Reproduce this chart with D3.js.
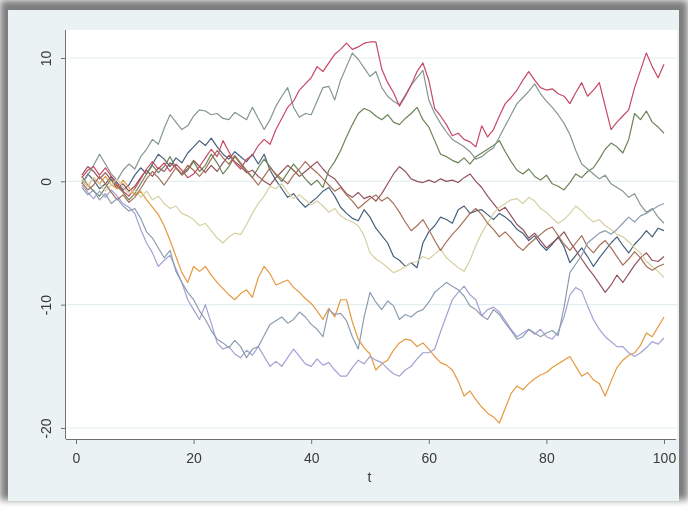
<!DOCTYPE html>
<html>
<head>
<meta charset="utf-8">
<script src="https://cdn.jsdelivr.net/npm/d3@7"></script>
<style>
  body { margin: 0; background: #ffffff; }
  svg { display: block; }
  text { font-family: "Liberation Sans", Arial, sans-serif; }
</style>
</head>
<body>
<svg></svg>
<script>
// time index 1..100
let tValues = d3.range(1, 101);
let xTicks = [0, 20, 40, 60, 80, 100];
let yTicks = [-20, -10, 0, 10];

// ten random walks
let cranberry = [
  0.3, 0.9, 1.2, 0.5, 1.1, 0.4, -0.3, -0.8, -1.2, -0.6,
  0.2, 1.0, 1.6, 1.0, 1.5, 0.8, 1.4, 0.9, 0.3, 0.6,
  1.2, 1.9, 2.6, 2.0, 3.3, 2.4, 1.5, 1.0, 1.8, 2.1,
  2.9, 3.4, 3.0, 4.2, 5.1, 6.0, 6.5, 7.4, 7.9, 8.4,
  9.3, 8.9, 9.6, 10.3, 10.7, 11.2, 10.7, 10.9, 11.2, 11.3,
  11.3, 9.1, 8.0, 7.2, 6.1, 6.9, 7.8, 8.9, 9.6, 8.2,
  5.9, 5.3, 4.6, 3.7, 3.9, 3.4, 3.2, 2.8, 4.5, 3.6,
  4.2, 5.3, 6.3, 6.8, 7.4, 8.2, 8.9, 8.2, 7.6, 7.4,
  7.5, 7.1, 6.9, 6.3, 7.2, 8.0, 6.9, 7.4, 8.0, 6.1,
  4.2, 4.8, 5.3, 5.8, 7.6, 9.0, 10.4, 9.3, 8.4, 9.5
];
let teal = [
  -0.2, 0.5, 1.3, 2.2, 1.4, 0.6, 0.1, 0.9, 1.4, 1.0,
  2.0, 2.6, 3.4, 3.0, 4.3, 5.4, 4.8, 4.2, 4.5, 5.3,
  5.8, 5.7, 5.4, 5.5, 5.1, 5.0, 5.6, 5.3, 5.0, 6.0,
  5.1, 4.2, 5.0, 6.1, 6.9, 7.6, 6.0, 5.2, 5.5, 5.4,
  6.5, 7.6, 7.7, 6.6, 8.2, 9.3, 10.4, 9.9, 9.2, 8.5,
  8.9, 7.6, 6.9, 6.5, 6.2, 7.0, 7.8, 8.4, 9.0, 6.6,
  5.5, 4.7, 4.0, 3.4, 3.1, 2.8, 2.4, 1.8, 2.0, 2.4,
  2.7, 3.6, 4.5, 5.4, 6.3, 6.8, 7.3, 7.9, 7.1, 6.5,
  6.0, 5.4, 4.7, 3.8, 2.5, 1.4, 1.0, 0.6, 0.2, 0.5,
  -0.2, -0.5, -0.8, -1.3, -1.0, -1.9, -2.5, -2.2, -2.9, -3.4
];
let forestGreen = [
  0.4, -0.3, -0.8, -1.2, -0.5, 0.2, -0.4, -0.9, -1.5, -1.0,
  -0.2, 0.6, 1.3, 0.7, 1.2, 2.0, 1.1, 0.5, 0.9, 1.6,
  0.8, 1.3, 2.2, 1.5, 0.6, 1.2, 2.0, 1.4, 0.8, 0.3,
  1.1, 1.8, 1.2, 0.5, 0.0, 0.7, 1.4, 0.8, 0.2, -0.3,
  0.1, -0.5, 0.9, 1.6, 2.5, 3.6, 4.6, 5.5, 5.9, 5.7,
  5.3, 5.0, 5.4, 4.8, 4.6, 5.1, 5.5, 6.0, 5.0, 4.4,
  3.3, 2.2, 2.0, 1.7, 1.5, 1.9, 1.4, 2.0, 2.3, 2.6,
  2.9, 3.3, 2.4, 1.6, 0.9, 0.6, 1.0, 0.4, 0.1, 0.5,
  -0.2, -0.4, -0.7, -0.1, 0.6, 0.3, 0.8, 1.1, 1.8, 2.6,
  3.1, 2.8, 2.3, 3.4, 5.5, 5.0, 5.7, 4.8, 4.4, 3.9
];
let dkorange = [
  0.1, -0.4, 0.3, -0.2, 0.4, -0.3, -0.6, 0.1, -0.5, -1.1,
  -0.8, -1.5, -2.1, -2.7, -3.6, -4.8, -6.1, -7.4, -8.2, -6.9,
  -7.3, -6.9, -7.6, -8.2, -8.7, -9.2, -9.6, -9.1, -8.8, -9.4,
  -7.8, -6.9, -7.5, -8.4, -8.2, -8.0, -8.6, -9.0, -9.5, -9.9,
  -10.5, -11.2, -10.3, -11.0, -9.6, -9.6, -11.4, -12.8, -13.5, -14.0,
  -15.3, -14.8, -14.5, -13.7, -13.1, -12.8, -12.9, -13.4, -13.1, -13.6,
  -14.2, -14.7, -14.9, -15.3, -16.2, -17.4, -17.0, -17.7, -18.3, -18.8,
  -19.1, -19.6, -18.4, -17.2, -16.6, -16.9, -16.4, -16.0, -15.7, -15.5,
  -15.1, -14.8, -14.5, -14.2, -15.0, -15.8, -15.5, -16.1, -16.4, -17.4,
  -16.2, -15.1, -14.5, -14.1, -13.9, -13.3, -12.3, -12.6, -11.8, -11.0
];
let lavender = [
  -0.3, -0.9, -1.4, -0.8, -1.3, -0.7, -1.2, -1.8, -2.1, -2.6,
  -3.9, -5.0, -5.8, -6.9, -6.4, -6.0, -7.1, -8.2, -9.6, -10.4,
  -11.2, -10.0, -11.5, -13.1, -13.6, -13.4, -14.0, -14.3, -13.7, -14.1,
  -13.4, -14.2, -15.0, -14.6, -15.0, -14.3, -13.6, -14.2, -14.8, -15.0,
  -14.4, -14.9, -14.7, -15.3, -15.8, -15.8, -15.1, -14.5, -14.8, -14.2,
  -14.5, -14.7, -15.2, -15.6, -15.8, -15.3, -15.0, -14.4, -13.9, -13.9,
  -13.6, -12.2, -10.9, -9.6, -9.0, -8.5, -9.2, -9.6, -10.9, -10.4,
  -10.2, -10.6, -11.3, -12.0, -12.6, -12.3, -12.0, -12.4, -12.0, -12.6,
  -12.8, -12.2, -11.0, -9.2, -8.6, -8.9, -10.1, -11.2, -12.0, -12.6,
  -13.0, -13.4, -13.4, -13.9, -14.2, -13.9, -13.5, -13.0, -13.2, -12.7
];
let emidblue = [
  -0.5, -1.1, -0.7, -1.5, -1.0, -1.8, -1.4, -2.0, -2.4, -2.2,
  -3.0, -4.1, -4.6, -5.4, -6.2, -5.6, -7.3, -8.2, -9.0, -9.6,
  -10.5, -11.2, -12.1, -12.8, -13.1, -13.5, -12.9, -13.4, -14.3, -13.6,
  -13.4, -12.5, -11.6, -11.3, -11.0, -11.5, -11.2, -10.6, -11.0, -11.6,
  -12.0, -12.6, -10.4, -10.8, -10.7, -11.3, -12.6, -13.6, -11.0, -9.0,
  -9.8, -10.4, -9.7, -10.1, -11.2, -10.8, -11.0, -10.6, -10.4, -9.8,
  -9.0, -8.6, -8.2, -8.5, -8.8, -9.3, -10.1, -10.4, -10.9, -11.2,
  -10.4, -10.8, -11.5, -12.1, -12.8, -12.6, -12.0, -12.3, -12.6, -12.3,
  -12.1, -12.5, -10.2, -7.4, -6.7, -6.0, -5.0, -4.6, -4.2, -4.0,
  -4.3, -3.9, -3.4, -2.9, -3.3, -2.8, -2.6, -2.3, -2.0, -1.8
];
let khaki = [
  0.2, -0.4, 0.3, -0.2, -0.8, -0.3, 0.2, -0.5, -1.0, -0.7,
  -1.3, -0.8, -1.5, -1.2, -1.8, -2.2, -2.0, -2.6, -2.8, -3.1,
  -3.6, -3.4, -4.0, -4.6, -5.0, -4.5, -4.2, -4.3, -3.5, -2.6,
  -1.8, -1.2, -0.4, -0.6, -0.2, -0.9, -1.4, -1.1, -1.5, -1.9,
  -1.6, -2.0, -2.5, -2.2, -2.8, -3.1, -3.3, -3.6, -4.4, -5.8,
  -6.3, -6.6, -7.0, -7.4, -7.2, -6.9, -6.6, -6.5, -6.1, -6.3,
  -5.9, -5.5, -6.2, -6.6, -7.0, -7.3, -6.4, -5.2, -4.2, -3.4,
  -2.6, -2.1, -1.8, -1.5, -1.4, -1.8, -1.3, -1.6, -2.2, -2.5,
  -3.0, -3.4, -3.1, -2.6, -2.0, -2.4, -2.9, -3.3, -3.1, -3.6,
  -3.9, -4.3, -4.5, -4.9, -5.4, -5.8, -6.5, -6.9, -7.3, -7.8
];
let navy = [
  -0.2, 0.6, 0.1, -0.6, -0.2, 0.4, -0.1, -0.7, -0.3, 0.5,
  1.1, 0.6, 1.4, 2.2, 1.8, 1.2, 1.9, 1.5, 2.3, 2.8,
  3.3, 2.9, 3.5, 2.8, 2.2, 1.8, 2.4, 2.0, 1.6, 2.2,
  1.4, 2.2, 0.9, 0.1, -0.6, -1.3, -1.0, -1.6, -2.1, -1.7,
  -1.3, -0.8, -0.5, -1.2, -2.1, -2.6, -3.0, -3.2, -2.3, -2.9,
  -3.8, -4.4, -5.0, -6.1, -6.4, -6.9, -6.6, -7.0, -5.0, -4.1,
  -3.6, -2.9, -3.1, -3.4, -2.3, -2.0, -2.6, -2.4, -2.3, -2.7,
  -3.1, -2.6, -2.9, -3.3, -3.9, -4.2, -4.8, -4.4, -5.1, -5.6,
  -5.1, -4.5, -5.3, -6.6, -6.0, -5.4, -6.1, -6.9, -6.2, -5.6,
  -5.0, -4.5, -5.2, -5.8, -5.1, -4.6, -4.0, -4.5, -3.8, -4.0
];
let maroon = [
  0.5, 1.2, 0.8, 0.2, 0.7, 0.1, -0.6, -0.2, -0.8, -0.4,
  0.3, 0.9, 0.4, 1.1, 0.8, 1.5, 1.1, 0.6, 1.0, 1.7,
  1.2, 0.7, 1.3, 0.8, 1.5, 2.1, 1.6, 1.2, 0.7, 0.9,
  0.4, 0.0, -0.3, 0.3, 0.8, 1.3, 0.9, 0.4, 0.8, 1.2,
  1.6, 1.0, 0.5, 0.2, -0.4, -1.0, -1.3, -0.9, -1.4, -1.2,
  -1.6, -1.0, -0.2, 0.6, 1.2, 0.8, 0.2, 0.0, -0.1, 0.1,
  -0.1, 0.2, 0.0, 0.1, -0.1, 0.3, 0.6, 0.0, -0.5, -1.2,
  -1.8, -2.4, -2.1, -2.8, -3.5, -3.9, -4.6, -4.2, -4.8, -5.4,
  -5.0, -4.6, -4.1, -4.9, -5.6, -6.3, -7.0, -7.6, -8.3, -9.0,
  -8.4, -7.6, -8.2, -7.5, -6.8, -6.2, -5.8, -6.4, -6.5, -6.1
];
let sienna = [
  -0.1, -0.7, -0.3, 0.4, -0.2, -0.9, -1.5, -1.1, -1.7, -1.3,
  -0.6, 0.2, 0.8, 0.3, -0.3, 0.4, 1.1, 0.6, 1.3, 0.9,
  0.4, 1.0, 1.8, 2.5, 1.9, 1.4, 2.1, 1.5, 0.9, 0.3,
  -0.3, 0.4, 1.1, 0.6, 0.2, -0.2, 0.5, 1.0, 1.6, 1.1,
  0.7, 0.2, -0.3, -0.8, -0.5, -1.1, -1.6, -2.2, -1.8, -1.4,
  -1.1, -1.6, -1.3, -1.8, -2.5, -3.3, -4.0, -3.6, -3.1, -3.9,
  -4.8, -5.6, -4.9, -4.3, -3.8, -3.2, -2.6, -2.2, -2.7, -3.4,
  -3.9, -4.5, -4.1, -4.6, -5.2, -5.6, -5.1, -4.7, -4.3, -3.9,
  -3.7, -4.4, -5.1, -5.6, -5.0, -4.4, -5.3, -5.8, -5.2, -4.8,
  -5.4, -6.1, -6.8, -6.3, -5.7, -6.2, -6.9, -7.2, -6.9, -6.7
];

let seriesList = [navy, maroon, forestGreen, dkorange, teal, cranberry, lavender, khaki, sienna, emidblue];
let seriesColors = ["#46607e", "#94525a", "#6b8458", "#e6993f", "#83968f", "#c84863", "#a4a0d4", "#d6d0a2", "#a67058", "#8c9db0"];

function drawChart() {
  let width = 688, height = 510;
  let svg = d3.select("svg").attr("width", width).attr("height", height);

  let defs = svg.append("defs");
  defs.append("filter").attr("id", "soft")
    .append("feGaussianBlur").attr("stdDeviation", 0.6);
  let shadow = defs.append("filter").attr("id", "shadow")
    .attr("x", "-5%").attr("y", "-5%").attr("width", "110%").attr("height", "110%");
  shadow.append("feGaussianBlur").attr("stdDeviation", 3.5);

  // photo frame with a drop shadow
  svg.append("rect").attr("x", 0).attr("y", 0).attr("width", width).attr("height", height - 10)
    .attr("fill", "#7d7d7d").attr("filter", "url(#shadow)");
  svg.append("rect").attr("x", 8).attr("y", 10).attr("width", 671).attr("height", 491)
    .attr("fill", "#eaf2f3");

  // plot region
  let left = 66, right = 677, top = 30, bottom = 439;
  svg.append("rect").attr("x", left).attr("y", top)
    .attr("width", right - left).attr("height", bottom - top).attr("fill", "#ffffff");

  let x = d3.scaleLinear().domain([0, 100]).range([76, 664]);
  let y = d3.scaleLinear().domain([-20, 10]).range([428, 58]);

  let g = svg.append("g").attr("filter", "url(#soft)");

  // horizontal grid
  g.append("g").selectAll("line")
    .data(yTicks)
    .join("line")
    .attr("x1", left).attr("x2", right)
    .attr("y1", d => y(d)).attr("y2", d => y(d))
    .attr("stroke", "#e4edef").attr("stroke-width", 1.2);

  let line = d3.line()
    .x((d, i) => x(tValues[i]))
    .y(d => y(d));

  g.append("g").selectAll("path")
    .data(seriesList)
    .join("path")
    .attr("d", line)
    .attr("fill", "none")
    .attr("stroke", (d, i) => seriesColors[i])
    .attr("stroke-width", 1.2)
    .attr("stroke-linejoin", "round");

  // axes, Stata style labels with a plain hyphen
  let fmt = d => String(d);
  let xAxis = d3.axisBottom(x).tickValues(xTicks).tickFormat(fmt).tickSize(5).tickPadding(9);
  let xg = g.append("g").attr("transform", `translate(0,${bottom})`).call(xAxis);
  xg.select(".domain").attr("d", `M${left},0.5H${right - 1}`);

  let yAxis = d3.axisLeft(y).tickValues(yTicks).tickFormat(fmt).tickSize(5).tickPadding(6);
  let yg = g.append("g").attr("transform", `translate(${left},0)`).call(yAxis);
  yg.select(".domain").attr("d", `M-0.5,${top}V${bottom}`);
  yg.selectAll(".tick text")
    .attr("transform", "rotate(-90)")
    .attr("text-anchor", "middle")
    .attr("x", 0)
    .attr("dy", "0")
    .attr("y", -15);

  [xg, yg].forEach(a => {
    a.select(".domain").attr("stroke", "#6d7274");
    a.selectAll(".tick line").attr("stroke", "#6d7274");
    a.selectAll(".tick text").attr("fill", "#3a3a3a").attr("font-size", 14);
  });

  g.append("text")
    .attr("x", (left + right) / 2 - 2)
    .attr("y", 482)
    .attr("text-anchor", "middle")
    .attr("font-size", 14)
    .attr("fill", "#3a3a3a")
    .text("t");
}

drawChart();
</script>
</body>
</html>
